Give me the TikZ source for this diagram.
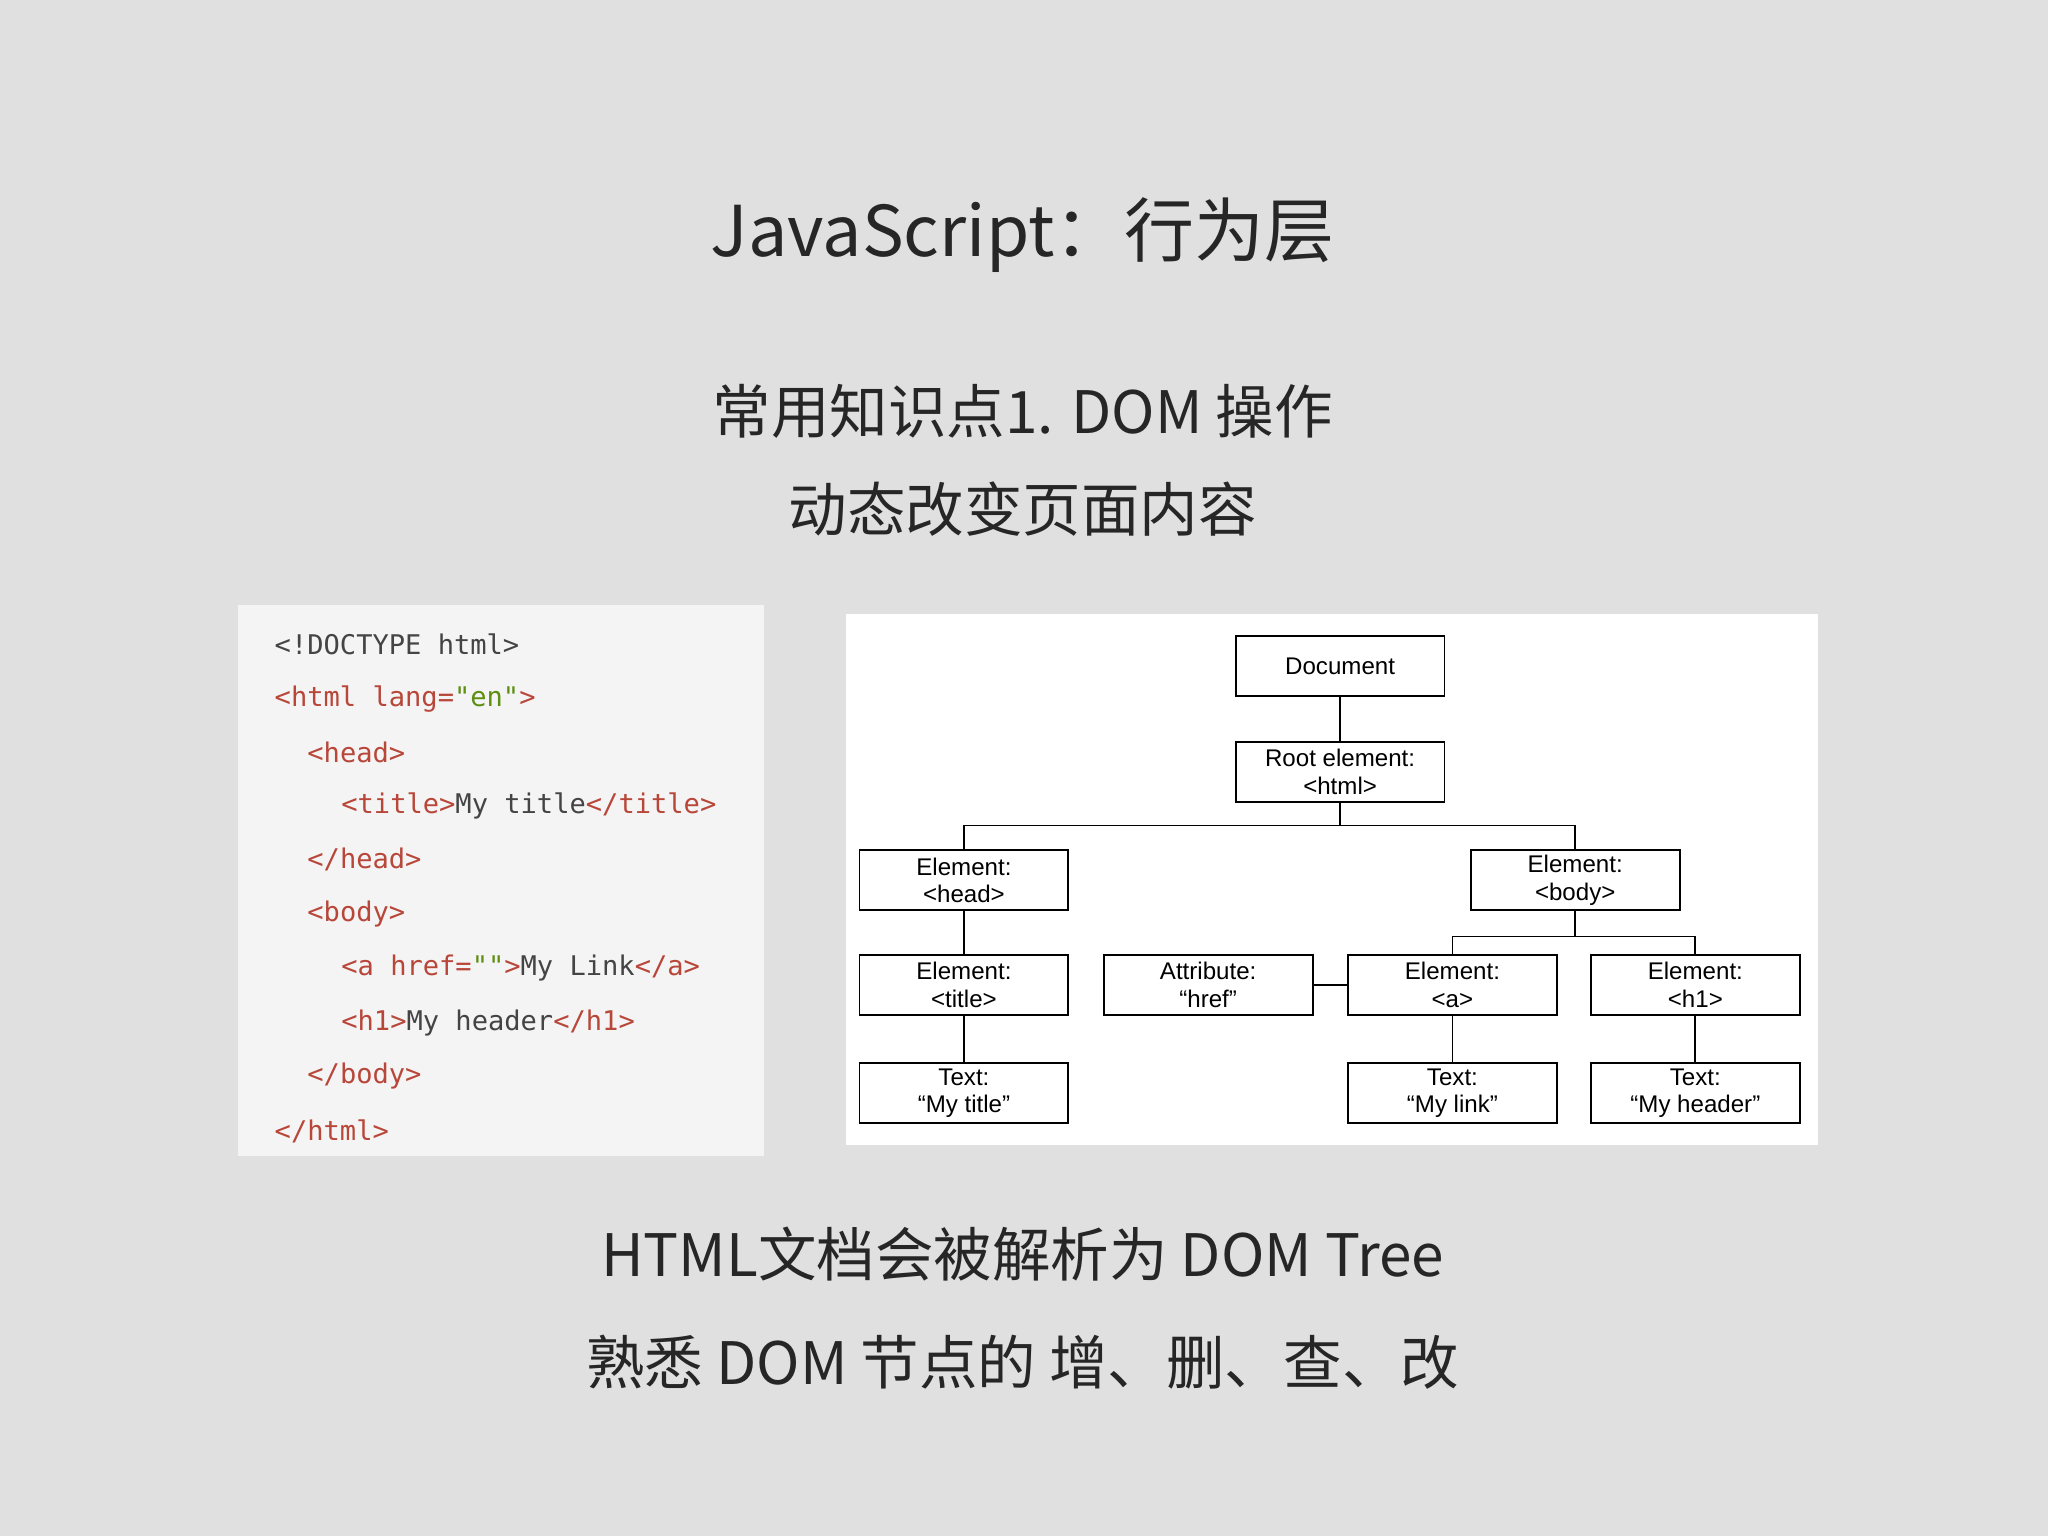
\documentclass[tikz,border=0pt]{standalone}
\usepackage{fontspec}
\setmainfont{Noto Sans CJK SC}[Scale=1]
\newfontfamily\codefont{DejaVu Sans Mono}
\newfontfamily\treefont{Liberation Sans}
\definecolor{bg}{HTML}{E0E0E0}
\definecolor{codebg}{HTML}{F4F4F4}
\definecolor{tagc}{HTML}{B8473A}
\definecolor{valc}{HTML}{5E8E12}
\definecolor{txtc}{HTML}{444444}
\begin{document}
\begin{tikzpicture}[x=0.02cm,y=-0.02cm,
  big/.style={font=\fontsize{30.5}{36}\selectfont, text=black!85},
  mid/.style={font=\fontsize{25.5}{30}\selectfont, text=black!85},
  code/.style={anchor=west, font=\codefont\fontsize{11.8}{13}\selectfont, text=txtc, inner sep=0},
  tbox/.style={draw, line width=0.8pt, minimum width=3.2cm, minimum height=0.92cm, inner sep=1pt, align=center, font=\treefont\fontsize{10.5}{12}\selectfont},
  tline/.style={line width=0.8pt}]
\fill[bg] (0,0) rectangle (1568,1176);
\node[big] (title) at (783,180) {JavaScript：行为层};
\node[mid] (s1) at (783,315) {常用知识点1. DOM 操作};
\node[mid] (s2) at (783,390) {动态改变页面内容};
\node[mid] (b1) at (783,960) {HTML文档会被解析为 DOM Tree};
\node[mid] (b2) at (783,1043) {熟悉 DOM 节点的 增、删、查、改};
% code panel
\fill[codebg] (182,463) rectangle (585,885);
\node[code] (c1) at (210,493) {<!DOCTYPE html>};
\node[code] (c2) at (210,535) {\textcolor{tagc}{<html lang=}\textcolor{valc}{"en"}\textcolor{tagc}{>}};
\node[code] (c3) at (235,576) {\textcolor{tagc}{<head>}};
\node[code] (c4) at (261,617) {\textcolor{tagc}{<title>}My title\textcolor{tagc}{</title>}};
\node[code] (c5) at (235,658) {\textcolor{tagc}{</head>}};
\node[code] (c6) at (235,700) {\textcolor{tagc}{<body>}};
\node[code] (c7) at (261,741) {\textcolor{tagc}{<a href=}\textcolor{valc}{""}\textcolor{tagc}{>}My Link\textcolor{tagc}{</a>}};
\node[code] (c8) at (261,783) {\textcolor{tagc}{<h1>}My header\textcolor{tagc}{</h1>}};
\node[code] (c9) at (235,824) {\textcolor{tagc}{</body>}};
\node[code] (c10) at (210,866) {\textcolor{tagc}{</html>}};
% tree panel
\fill[white] (648,470) rectangle (1392,877);
\node[tbox] (doc) at (1026,510) {Document};
\node[tbox] (root) at (1026,591) {Root element:\\<html>};
\node[tbox] (head) at (738,674) {Element:\\<head>};
\node[tbox] (body) at (1206,674) {Element:\\<body>};
\node[tbox] (title2) at (738,754) {Element:\\<title>};
\node[tbox] (attr) at (925,754) {Attribute:\\“href”};
\node[tbox] (a) at (1112,754) {Element:\\<a>};
\node[tbox] (h1) at (1298,754) {Element:\\<h1>};
\node[tbox] (t1) at (738,837) {Text:\\“My title”};
\node[tbox] (t2) at (1112,837) {Text:\\“My link”};
\node[tbox] (t3) at (1298,837) {Text:\\“My header”};
\coordinate (j1) at (1026,632);
\coordinate (j2) at (1206,717);
\draw[tline] (doc) -- (root);
\draw[tline] (root) -- (j1);
\draw[tline] (head.north) |- (j1) -| (body.north);
\draw[tline] (body) -- (j2);
\draw[tline] (a.north) |- (j2) -| (h1.north);
\draw[tline] (attr) -- (a);
\draw[tline] (head) -- (title2);
\draw[tline] (title2) -- (t1);
\draw[tline] (a) -- (t2);
\draw[tline] (h1) -- (t3);
\end{tikzpicture}
\end{document}
